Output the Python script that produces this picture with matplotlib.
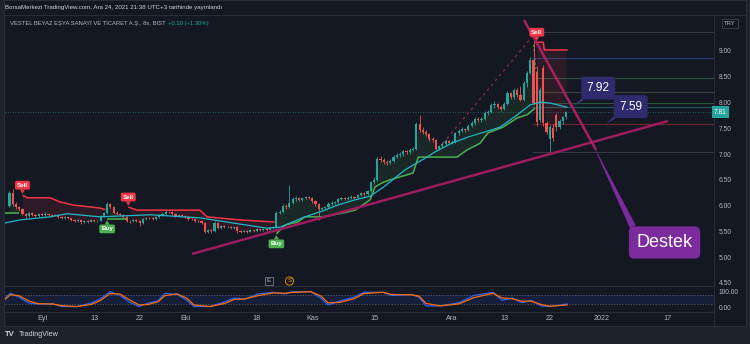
import numpy as np
import matplotlib.pyplot as plt
from matplotlib.patches import Rectangle
from matplotlib.lines import Line2D
from matplotlib.transforms import blended_transform_factory

plt.rcParams['font.family'] = ['Liberation Sans', 'DejaVu Sans']

W, H = 750, 344
BG = '#141823'
FRAME = '#1e222d'
SEP = '#2a2e39'
TXT = '#b2b5be'
UP = '#26a69a'
DN = '#ef5350'

# VESBE 8h bars (two per session); bar 0 = first bar of 1 Sep 2021
first_bar = -10
opens = [6.00, 6.24, 6.03, 5.97, 5.93, 5.84, 5.79, 5.85, 5.81, 5.80,
         5.83, 5.81, 5.84, 5.82, 5.80, 5.82, 5.78, 5.76, 5.77, 5.75,
         5.72, 5.69, 5.72, 5.67, 5.70, 5.68, 5.71, 5.69, 5.70, 5.80,
         5.85, 6.02, 5.98, 5.86, 5.84, 5.82, 5.78, 5.70, 5.69, 5.72,
         5.70, 5.66, 5.74, 5.76, 5.75, 5.73, 5.77, 5.82, 5.83, 5.88,
         5.87, 5.84, 5.80, 5.81, 5.79, 5.78, 5.74, 5.73, 5.70, 5.69,
         5.66, 5.48, 5.52, 5.50, 5.66, 5.57, 5.60, 5.58, 5.59, 5.57,
         5.59, 5.50, 5.49, 5.51, 5.49, 5.52, 5.50, 5.54, 5.52, 5.55,
         5.53, 5.56, 5.58, 5.86, 5.88, 6.00, 5.97, 6.04, 6.12, 6.15,
         6.10, 6.14, 6.16, 6.14, 6.08, 6.02, 5.93, 5.95, 5.98, 6.03,
         6.05, 6.06, 6.12, 6.14, 6.12, 6.15, 6.17, 6.15, 6.20, 6.24,
         6.22, 6.28, 6.45, 6.50, 6.90, 6.88, 6.85, 6.83, 6.86, 6.95,
         6.98, 7.00, 7.05, 7.03, 7.08, 7.10, 7.58, 7.47, 7.42, 7.38,
         7.30, 7.28, 7.10, 7.15, 7.20, 7.25, 7.22, 7.24, 7.40, 7.45,
         7.48, 7.46, 7.55, 7.60, 7.68, 7.66, 7.68, 7.80, 7.82, 7.95,
         7.97, 7.92, 7.88, 7.98, 8.18, 8.10, 8.25, 8.15, 8.05, 8.38,
         8.58, 8.82, 8.60, 7.66, 8.67, 7.60, 7.30, 7.50, 7.75, 7.52, 7.64, 7.71]
highs = [6.28, 6.32, 6.06, 5.99, 5.95, 5.86, 5.88, 5.87, 5.83, 5.86,
         5.85, 5.87, 5.86, 5.84, 5.84, 5.83, 5.80, 5.79, 5.78, 5.76,
         5.73, 5.74, 5.73, 5.72, 5.71, 5.73, 5.72, 5.72, 5.82, 5.88,
         6.06, 6.05, 6.00, 5.89, 5.86, 5.84, 5.79, 5.72, 5.74, 5.73,
         5.72, 5.76, 5.78, 5.78, 5.77, 5.79, 5.84, 5.86, 5.91, 5.90,
         5.89, 5.86, 5.83, 5.83, 5.81, 5.79, 5.76, 5.75, 5.72, 5.71,
         5.68, 5.55, 5.54, 5.69, 5.68, 5.62, 5.62, 5.61, 5.61, 5.61,
         5.60, 5.52, 5.53, 5.52, 5.54, 5.53, 5.56, 5.55, 5.57, 5.56,
         5.58, 5.60, 5.89, 5.92, 6.03, 6.02, 6.40, 6.16, 6.18, 6.17,
         6.17, 6.19, 6.18, 6.16, 6.10, 6.04, 5.98, 6.00, 6.06, 6.08,
         6.09, 6.15, 6.17, 6.16, 6.18, 6.20, 6.19, 6.23, 6.27, 6.26,
         6.31, 6.48, 6.56, 6.95, 6.96, 6.92, 6.88, 6.90, 6.98, 7.01,
         7.04, 7.08, 7.08, 7.12, 7.14, 7.62, 7.75, 7.52, 7.46, 7.40,
         7.33, 7.30, 7.18, 7.23, 7.29, 7.28, 7.27, 7.43, 7.48, 7.52,
         7.51, 7.58, 7.64, 7.71, 7.72, 7.71, 7.84, 7.86, 7.99, 8.02,
         8.00, 7.95, 8.01, 8.22, 8.20, 8.29, 8.28, 8.32, 8.42, 8.62,
         8.88, 9.20, 8.70, 8.30, 8.72, 7.65, 7.56, 7.58, 7.80, 7.68, 7.74, 7.84]
lows = [5.97, 6.00, 5.94, 5.90, 5.82, 5.76, 5.77, 5.79, 5.77, 5.78,
        5.79, 5.80, 5.80, 5.78, 5.79, 5.76, 5.74, 5.74, 5.73, 5.70,
        5.67, 5.68, 5.65, 5.66, 5.66, 5.67, 5.67, 5.68, 5.69, 5.78,
        5.83, 5.95, 5.84, 5.82, 5.79, 5.76, 5.68, 5.66, 5.67, 5.68,
        5.60, 5.65, 5.72, 5.73, 5.71, 5.72, 5.76, 5.80, 5.81, 5.85,
        5.82, 5.78, 5.78, 5.77, 5.76, 5.72, 5.71, 5.68, 5.67, 5.64,
        5.46, 5.46, 5.47, 5.49, 5.55, 5.55, 5.56, 5.56, 5.55, 5.55,
        5.47, 5.46, 5.48, 5.46, 5.48, 5.48, 5.49, 5.50, 5.51, 5.51,
        5.52, 5.54, 5.56, 5.83, 5.85, 5.94, 5.95, 6.02, 6.09, 6.08,
        6.08, 6.12, 6.12, 6.05, 5.99, 5.72, 5.90, 5.93, 5.96, 6.01,
        6.03, 6.04, 6.10, 6.10, 6.10, 6.13, 6.13, 6.13, 6.18, 6.19,
        6.20, 6.26, 6.42, 6.48, 6.84, 6.81, 6.79, 6.80, 6.84, 6.92,
        6.95, 6.97, 7.00, 7.00, 7.05, 7.08, 7.43, 7.38, 7.34, 7.26,
        7.24, 7.06, 7.07, 7.13, 7.17, 7.19, 7.20, 7.22, 7.36, 7.42,
        7.42, 7.44, 7.52, 7.57, 7.62, 7.63, 7.66, 7.76, 7.80, 7.90,
        7.88, 7.84, 7.85, 7.95, 8.06, 8.07, 8.11, 8.02, 8.02, 8.30,
        8.55, 7.95, 7.55, 7.62, 7.55, 7.38, 7.04, 7.25, 7.45, 7.48, 7.58, 7.68]
closes = [6.24, 6.03, 5.97, 5.93, 5.84, 5.79, 5.85, 5.81, 5.80, 5.83,
          5.81, 5.84, 5.82, 5.80, 5.82, 5.78, 5.76, 5.77, 5.75, 5.72,
          5.69, 5.72, 5.67, 5.70, 5.68, 5.71, 5.69, 5.70, 5.80, 5.85,
          6.02, 5.98, 5.86, 5.84, 5.82, 5.78, 5.70, 5.69, 5.72, 5.70,
          5.66, 5.74, 5.76, 5.75, 5.73, 5.77, 5.82, 5.83, 5.88, 5.87,
          5.84, 5.80, 5.81, 5.79, 5.78, 5.74, 5.73, 5.70, 5.69, 5.66,
          5.48, 5.52, 5.50, 5.66, 5.57, 5.60, 5.58, 5.59, 5.57, 5.59,
          5.50, 5.49, 5.51, 5.49, 5.52, 5.50, 5.54, 5.52, 5.55, 5.53,
          5.56, 5.58, 5.86, 5.88, 6.00, 5.97, 6.04, 6.12, 6.15, 6.10,
          6.14, 6.16, 6.14, 6.08, 6.02, 5.93, 5.95, 5.98, 6.03, 6.05,
          6.06, 6.12, 6.14, 6.12, 6.15, 6.17, 6.15, 6.20, 6.24, 6.22,
          6.28, 6.45, 6.50, 6.90, 6.88, 6.85, 6.83, 6.86, 6.95, 6.98,
          7.00, 7.05, 7.03, 7.08, 7.10, 7.58, 7.47, 7.42, 7.38, 7.30,
          7.28, 7.10, 7.15, 7.20, 7.25, 7.22, 7.24, 7.40, 7.45, 7.48,
          7.46, 7.55, 7.60, 7.68, 7.66, 7.68, 7.80, 7.82, 7.95, 7.97,
          7.92, 7.88, 7.98, 8.18, 8.10, 8.25, 8.15, 8.05, 8.38, 8.58,
          8.82, 8.00, 7.62, 8.24, 7.60, 7.43, 7.52, 7.32, 7.52, 7.64, 7.71, 7.81]

date_ticks = [0, 16, 30, 44, 66, 83, 102, 126, 142, 156, 172, 192]
date_labels = ['Eyl', '13', '22', 'Eki', '18', 'Kas', '15', 'Ara', '13', '22', '2022', '17']
price_ticks = [4.5, 5.0, 5.5, 6.0, 6.5, 7.0, 7.5, 8.0, 8.5, 9.0]

# supertrend legs (bar, level)
buy_legs = [
    ([-11.4, -7.0], [5.85, 5.85]),
    ([20.0, 26.0], [5.74, 5.74]),
    ([72.0, 74.7, 78.6, 80.8, 86.0, 92.2, 96.2, 100.8, 102.3, 104.5, 107.0,
      114.0, 115.6, 127.5, 130.6, 134.6, 137.0, 141.6, 146.0, 149.0, 151.5],
     [5.45, 5.62, 5.68, 5.78, 5.78, 5.85, 5.91, 6.11, 6.36, 6.44, 6.50,
      6.63, 6.94, 6.94, 7.08, 7.21, 7.41, 7.52, 7.70, 7.76, 7.89]),
]
sell_legs = [
    ([-6.0, -4.5, 2.5, 5.5, 9.5, 17.8, 19.5], [6.20, 6.15, 6.15, 6.07, 6.01, 5.95, 5.92]),
    ([26.5, 29.2, 48.5, 50.7, 60.8, 71.5], [5.97, 5.91, 5.91, 5.78, 5.72, 5.68]),
    ([152.0, 154.0, 154.3, 161.5], [9.17, 9.17, 9.02, 9.02]),
]

ma_bars = [-11.4, -6.8, 2.5, 7.7, 17.8, 33.2, 48.5, 58.7, 69.1, 73.1, 76.2, 80.8, 86.0,
           90.9, 96.2, 100.8, 105.4, 111.5, 117.7, 120.7, 125.9, 130.9, 136.1, 140.7,
           146.0, 149.9, 153.0, 156.0, 161.3]
ma_vals = [5.66, 5.72, 5.78, 5.84, 5.78, 5.82, 5.76, 5.66, 5.56, 5.58, 5.66, 5.78, 5.89,
           6.01, 6.11, 6.18, 6.38, 6.69, 6.92, 7.04, 7.21, 7.33, 7.43, 7.52,
           7.76, 7.95, 8.01, 7.99, 7.91]

stoch_bars = [-11.4, -9.7, -7.1, -4.0, -1.2, 3.4, 6.1, 10.8, 15.1, 17.8, 20.9, 24.0, 26.7,
              29.8, 32.6, 35.6, 37.8, 41.5, 44.5, 46.7, 51.6, 56.2, 59.0, 62.1, 66.4,
              71.0, 74.7, 76.8, 82.6, 85.7, 87.9, 91.6, 95.9, 98.9, 104.8, 107.5, 113.4,
              115.8, 118.0, 122.3, 128.1, 132.7, 138.6, 141.3, 144.4, 147.5, 150.2, 153.3,
              156.0, 161.3]
stoch_k = [58, 90, 65, 27, 21, 21, 5, 5, 27, 52, 100, 76, 35, 5, 27, 41, 90, 82, 45, 5,
           5, 35, 59, 50, 86, 96, 86, 100, 100, 58, 15, 41, 65, 96, 96, 76, 82, 65, 9, 9,
           29, 76, 96, 45, 59, 29, 45, 9, 5, 21]
stoch_d = [50, 80, 75, 40, 23, 21, 10, 5, 18, 42, 88, 85, 50, 15, 18, 35, 75, 86, 58, 15,
           5, 25, 50, 53, 75, 92, 90, 95, 100, 72, 28, 32, 55, 88, 96, 82, 80, 72, 25, 9,
           22, 62, 90, 60, 55, 38, 40, 18, 7, 15]

support_bars, support_prices = [46.1, 192.3], [5.06, 7.64]
resist_bars, resist_prices = [148.1, 170.2], [9.60, 7.08]
fan_bars, fan_prices = [123.2, 150.5], [7.21, 9.27]
peak_bars, peak_prices = [151.0, 152.4], [9.12, 8.25]

level_prices = [9.37, 8.86, 8.48, 8.20, 7.99, 7.92, 7.59, 7.04]
level_colors = ['#363a45', '#24406e', '#2c5237', '#384640', '#2c5237', '#245a5e', '#6e2630', '#363a45']

callout_values = [7.92, 7.59]
callout_bars = [163.1, 173.3]

O, Hh, L, C = (np.array(v) for v in (opens, highs, lows, closes))
bars = np.arange(first_bar, first_bar + len(C))


def fx(x):
    return x / W


def fy(y):
    return 1 - y / H


fig = plt.figure(figsize=(W / 100, H / 100), dpi=100, facecolor=FRAME)
fig.patches.append(Rectangle((fx(4), fy(326)), fx(746) - fx(4), fy(0) - fy(326),
                             transform=fig.transFigure, fc=BG, ec=SEP, lw=0.8, zorder=-5))

ax = fig.add_axes([fx(5), fy(286), fx(714) - fx(5), fy(15) - fy(286)])
osc = fig.add_axes([fx(5), fy(311), fx(714) - fx(5), fy(286) - fy(311)])
for a in (ax, osc):
    a.set_facecolor('none')
    for s in a.spines.values():
        s.set_visible(False)
    a.set_xlim(-11.37, 206.45)
    a.yaxis.tick_right()
    a.tick_params(axis='y', length=0, pad=3.5, labelsize=4.8, labelcolor=TXT)

ax.set_ylim(4.437, 9.699)
ax.set_yticks(price_ticks)
ax.set_yticklabels([f'{p:.2f}' for p in price_ticks])
ax.tick_params(axis='x', bottom=False, labelbottom=False)

# separators
for xs, ys in (([5, 714], [286, 286]), ([714, 714], [15, 326]), ([5, 714], [311.5, 311.5]),
               ([4, 746], [15, 15])):
    fig.add_artist(Line2D([fx(v) for v in xs], [fy(v) for v in ys], transform=fig.transFigure,
                          color=SEP, lw=0.7, zorder=-1))

# supertrend fills and lines
mid = (O + C) / 2
for legs, col in ((buy_legs, '#4caf50'), (sell_legs, '#f23645')):
    for lb, lp in legs:
        m = (bars >= lb[0]) & (bars <= lb[-1])
        ax.fill_between(bars[m], np.interp(bars[m], lb, lp), mid[m], color=col,
                        alpha=0.11, lw=0, zorder=2)
        ax.plot(lb, lp, color=col, lw=1.1, zorder=4, solid_capstyle='butt')

ax.plot(ma_bars, ma_vals, color='#1fb8c8', lw=0.9, zorder=4)

# candles
cols = np.where(C >= O, UP, DN)
ax.vlines(bars, L, Hh, colors=cols, lw=0.6, zorder=3)
ax.bar(bars, np.maximum(np.abs(C - O), 0.006), bottom=np.minimum(O, C), width=0.66,
       color=cols, lw=0, zorder=3)

# levels on the right side
ax.hlines(level_prices, 150.5, 206.45, colors=level_colors, lw=0.8, zorder=1)
ax.axhline(C[-1], color=UP, lw=0.6, ls=(0, (1, 2)), alpha=0.7, zorder=1)

ax.plot(fan_bars, fan_prices, color='#9c2a3a', lw=0.9, ls=(0, (2, 3)), zorder=2)
ax.plot(peak_bars, peak_prices, color='#3f8f4a', lw=0.8, ls=(0, (2, 2)), zorder=2)


def signal(b, p, text, col, above):
    dy = 10 if above else -10
    ax.annotate(text, xy=(b, p), xytext=(0, dy), textcoords='offset pixels',
                ha='center', va='center', fontsize=4.5, color='white', fontweight='bold',
                bbox=dict(boxstyle='round,pad=0.3,rounding_size=0.25', fc=col, ec='none'),
                arrowprops=dict(arrowstyle='wedge,tail_width=0.8', fc=col, ec='none',
                                shrinkA=0, shrinkB=1),
                zorder=6)


for lb, lp in sell_legs:
    signal(lb[0], lp[0], 'Sell', '#f23645', True)
for lb, lp in buy_legs:
    if lb[0] >= first_bar:
        signal(lb[0], lp[0], 'Buy', '#4caf50', False)

# trend lines
ax.plot(support_bars, support_prices, color='#9e1b5e', lw=1.8, zorder=5, solid_capstyle='butt')
ax.plot(resist_bars, resist_prices, color='#a8205f', lw=1.8, zorder=5, solid_capstyle='butt')

s1 = np.diff(support_prices)[0] / np.diff(support_bars)[0]
s2 = np.diff(resist_prices)[0] / np.diff(resist_bars)[0]
ix = (resist_prices[0] - support_prices[0] + s1 * support_bars[0] - s2 * resist_bars[0]) / (s1 - s2)
iy = support_prices[0] + s1 * (ix - support_bars[0])
ax.annotate('Destek', xy=(ix, iy), xytext=(72.7, -100.2), textcoords='offset pixels',
            ha='center', va='center', fontsize=13, color='white',
            bbox=dict(boxstyle='round,pad=0.42,rounding_size=0.3', fc='#7b2b9c', ec='none'),
            arrowprops=dict(arrowstyle='wedge,tail_width=0.35', fc='#7b2b9c', ec='none',
                            relpos=(0.0, 1.0), shrinkA=0, shrinkB=0),
            zorder=7)

for b, v, off in zip(callout_bars, callout_values, [(25.4, 18.5), (24.5, 17.0)]):
    ax.annotate(f'{v:.2f}', xy=(b, v), xytext=off, textcoords='offset pixels',
                ha='center', va='center', fontsize=8.6, color='white',
                bbox=dict(boxstyle='round,pad=0.45,rounding_size=0.2', fc='#2e2b6e', ec='none'),
                arrowprops=dict(arrowstyle='wedge,tail_width=0.2', fc='#3b3690', ec='none',
                                relpos=(0.1, 0.0), shrinkA=0, shrinkB=0),
                zorder=7)

# last price tag
tr = blended_transform_factory(ax.transAxes, ax.transData)
ax.text(1.0, C[-1], f'{C[-1]:.2f}', transform=tr, ha='left', va='center', fontsize=4.8,
        color='white', bbox=dict(boxstyle='square,pad=0.35', fc=UP, ec='none'), zorder=8,
        clip_on=False)

# oscillator pane
osc.set_ylim(-23.7, 136.5)
osc.axhspan(20, 80, color='#2962ff', alpha=0.1, lw=0)
for lvl in (20, 80):
    osc.axhline(lvl, color='#787b86', lw=0.5, ls=(0, (2, 2)), alpha=0.8)
osc.plot(stoch_bars, stoch_k, color='#2962ff', lw=0.9)
osc.plot(stoch_bars, stoch_d, color='#ff6d00', lw=0.9)
osc.set_yticks([0, 100])
osc.set_yticklabels(['0.00', '100.00'])
osc.set_xticks(date_ticks)
osc.set_xticklabels(date_labels)
osc.tick_params(axis='x', length=0, pad=3, labelsize=5.2, labelcolor=TXT)

# header
chg = C[-1] - C[-2]
pct = chg / C[-2] * 100
fig.text(fx(5), fy(7.5), 'BorsaMerkezi TradingView.com, Ara 24, 2021 21:38 UTC+3 tarihinde yayınlandı',
         fontsize=4.4, color='#d1d4dc', va='center')
fig.text(fx(10), fy(23), 'VESTEL BEYAZ EŞYA SANAYİ VE TİCARET A.Ş., 8s, BIST',
         fontsize=4.2, color=TXT, va='center')
fig.text(fx(168), fy(23), f'{chg:+.2f} ({pct:+.2f}%)', fontsize=4.2, color=UP, va='center')

fig.text(fx(730), fy(23.5), 'TRY', fontsize=4.2, color=TXT, ha='center', va='center',
         bbox=dict(boxstyle='square,pad=0.35', fc=BG, ec='#434651', lw=0.5))
fig.text(fx(269), fy(281), 'E', fontsize=4.6, color='#b2b5be', ha='center', va='center',
         bbox=dict(boxstyle='square,pad=0.3', fc=BG, ec='#787b86', lw=0.6))
fig.text(fx(289.5), fy(281), 'S', fontsize=4.6, color='#ff9800', ha='center', va='center',
         bbox=dict(boxstyle='circle,pad=0.25', fc=BG, ec='#ff9800', lw=0.6))

fig.text(fx(5), fy(334), 'TV', fontsize=5.5, color='#d1d4dc', fontweight='bold', va='center')
fig.text(fx(19), fy(334), 'TradingView', fontsize=5.2, color='#d1d4dc', va='center')

fig.savefig('out.png', dpi=100, facecolor=FRAME)
